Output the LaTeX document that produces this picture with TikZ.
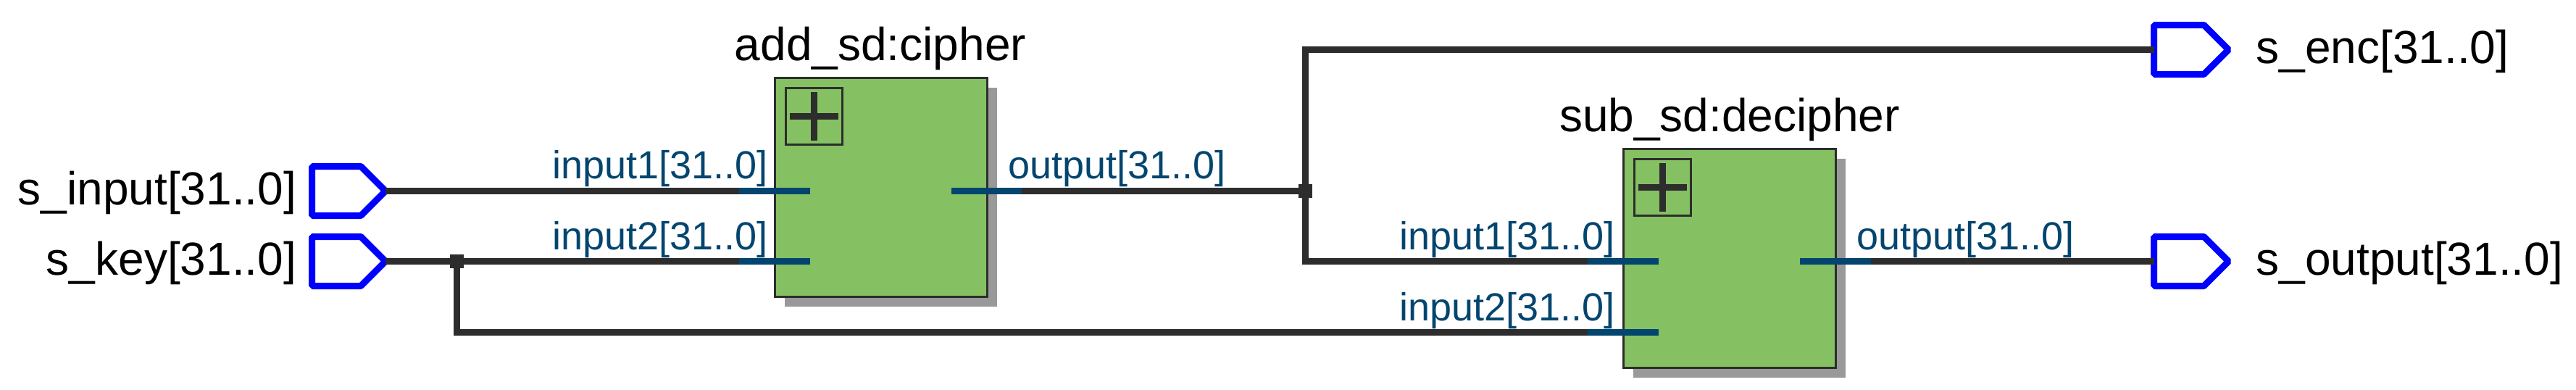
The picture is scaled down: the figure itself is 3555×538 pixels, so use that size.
\documentclass[tikz,border=0pt]{standalone}
\usepackage{fontspec}
\setmainfont{Liberation Sans}
\usetikzlibrary{shapes.symbols}
\definecolor{wirecol}{HTML}{2D2D2D}
\definecolor{portcol}{HTML}{03456F}
\definecolor{boxgreen}{HTML}{85C062}
\definecolor{shadowcol}{HTML}{999999}
\definecolor{pinblue}{HTML}{0000FF}
\tikzset{
  x=1pt,y=-1pt,
  wire/.style={draw=wirecol,line width=9pt},
  stub/.style={draw=portcol,line width=9pt},
  hier/.style={draw=wirecol,fill=boxgreen,line width=3pt,rectangle,inner sep=0pt,outer sep=0pt,minimum width=293pt,minimum height=302pt},
  hiershadow/.style={fill=shadowcol,rectangle,inner sep=0pt,outer sep=0pt,minimum width=293pt,minimum height=302pt},
  plusbox/.style={draw=wirecol,line width=3pt,rectangle,inner sep=0pt,outer sep=0pt,minimum size=78pt},
  plusmark/.style={draw=wirecol,line width=9pt},
  pinshape/.style={draw=pinblue,fill=white,line width=9pt,line join=bevel,signal,signal to=east,signal from=nowhere,signal pointer angle=90,inner sep=0pt,outer sep=0pt,minimum height=68pt},
  pinin/.style={pinshape,minimum width=101.5pt,anchor=west},
  pinout/.style={pinshape,minimum width=103pt,anchor=west},
  junction/.style={fill=wirecol,rectangle,inner sep=0pt,outer sep=0pt,minimum size=19pt},
  bigtext/.style={font=\fontsize{64pt}{70pt}\selectfont,inner sep=0pt,outer sep=0pt},
  porttext/.style={font=\fontsize{54pt}{60pt}\selectfont,text=portcol,inner sep=0pt,outer sep=0pt},
}
\begin{document}
\begin{tikzpicture}
\useasboundingbox (0,0) rectangle (3555,538);
% pins
\node[pinin] (sinput) at (430.5,263.5) {};
\node[pinin] (skey) at (430.5,360.5) {};
\node[pinout] (senc) at (2972.5,68.5) {};
\node[pinout] (soutput) at (2972.5,360.5) {};
% boxes
\node[hiershadow] (shadowa) at (1229.5,272) {};
\node[hiershadow] (shadowb) at (2400.5,370) {};
\node[hier] (cipher) at (1216,258.5) {};
\node[hier] (decipher) at (2387,356.5) {};
\node[plusbox] (plusa) at (1123.5,160.5) {};
\node[plusbox] (plusb) at (2294.5,258.5) {};
\draw[plusmark] (1090,160.5) -- (1157,160.5) (1123.5,127) -- (1123.5,194);
\draw[plusmark] (2261,258.5) -- (2328,258.5) (2294.5,225) -- (2294.5,292);
% port coordinates
\coordinate (ain1) at (1020,263.5);
\coordinate (ain1e) at (1118,263.5);
\coordinate (ain2) at (1020,360.5);
\coordinate (ain2e) at (1118,360.5);
\coordinate (aout) at (1410,263.5);
\coordinate (aoute) at (1313,263.5);
\coordinate (bin1) at (2191,360.5);
\coordinate (bin1e) at (2289,360.5);
\coordinate (bin2) at (2191,458.5);
\coordinate (bin2e) at (2289,458.5);
\coordinate (bout) at (2582,360.5);
\coordinate (boute) at (2484,360.5);
% junctions
\node[junction] (j1) at (630.5,360.5) {};
\node[junction] (j2) at (1801.5,263.5) {};
% wires
\draw[wire] (sinput.east) -- (ain1);
\draw[wire] (skey.east) -- (ain2);
\draw[wire] (aout) -- (j2.center);
\draw[wire,line join=miter] (j2.center) |- (senc.west);
\draw[wire,line join=miter] (j2.center) |- (bin1);
\draw[wire,line join=miter] (j1.center) |- (bin2);
\draw[wire] (bout) -- (soutput.west);
% stubs
\draw[stub] (ain1) -- (ain1e);
\draw[stub] (ain2) -- (ain2e);
\draw[stub] (aout) -- (aoute);
\draw[stub] (bin1) -- (bin1e);
\draw[stub] (bin2) -- (bin2e);
\draw[stub] (bout) -- (boute);
% labels
\node[bigtext,anchor=base east] (linput) at (409,282.5) {s\_input[31..0]};
\node[bigtext,anchor=base east] (lkey) at (409,379.5) {s\_key[31..0]};
\node[bigtext,anchor=base west] (lenc) at (3113.5,87.5) {s\_enc[31..0]};
\node[bigtext,anchor=base west] (loutput) at (3113.5,379.5) {s\_output[31..0]};
\node[bigtext,anchor=base] (lcipher) at (1215,83.5) {add\_sd:cipher};
\node[bigtext,anchor=base] (ldecipher) at (2387,181.5) {sub\_sd:decipher};
\node[porttext,anchor=base east] (la1) at (1059.5,246.8) {input1[31..0]};
\node[porttext,anchor=base east] (la2) at (1059.5,344.3) {input2[31..0]};
\node[porttext,anchor=base west] (la3) at (1391,246.8) {output[31..0]};
\node[porttext,anchor=base east] (lb1) at (2229,344.3) {input1[31..0]};
\node[porttext,anchor=base east] (lb2) at (2229,442.3) {input2[31..0]};
\node[porttext,anchor=base west] (lb3) at (2562,344.3) {output[31..0]};
\end{tikzpicture}
\end{document}
